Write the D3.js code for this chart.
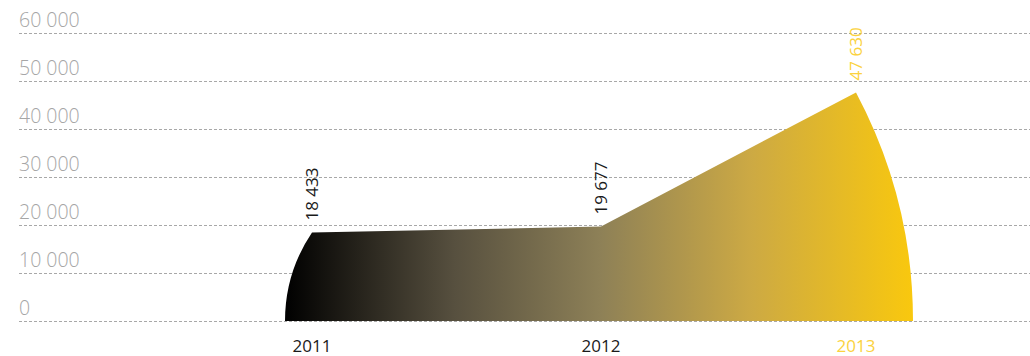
<!DOCTYPE html>
<html>
<head>
<meta charset="utf-8">
<script src="https://cdn.jsdelivr.net/npm/d3@7"></script>
<style>
  html, body { margin: 0; padding: 0; background: #fff; }
  svg { display: block; font-family: "Open Sans", Lato, sans-serif; }
</style>
</head>
<body>
<svg id="chart" width="1030" height="356"></svg>
<script>
// Yearly values
const years = ["2011", "2012", "2013"];
const values = [18433, 19677, 47630];
const valueLabels = ["18 433", "19 677", "47 630"];
const yTicks = [0, 10000, 20000, 30000, 40000, 50000, 60000];
const yTickLabels = ["0", "10 000", "20 000", "30 000", "40 000", "50 000", "60 000"];

const svg = d3.select("#chart");
const W = 1030;
const yellow = "#f9c80e";
const yellowText = "#fbd23e";

const y = d3.scaleLinear().domain([0, 60000]).range([321, 33]);
const x = d3.scaleOrdinal().domain(years).range([312, 601, 856]);

const base = y(0);
const leftBottom = x(years[0]) - 27;
const rightBottom = x(years[2]) + 57;

// gradient across the filled band
const defs = svg.append("defs");
const grad = defs.append("linearGradient")
  .attr("id", "band").attr("gradientUnits", "userSpaceOnUse")
  .attr("x1", leftBottom).attr("x2", rightBottom).attr("y1", 0).attr("y2", 0);
[[0, "#000000"], [0.27, "#57503f"], [0.5, "#8d8057"], [0.74, "#cca944"], [1, yellow]]
  .forEach(([o, c]) => grad.append("stop").attr("offset", o).attr("stop-color", c));

// grid lines
svg.append("g").selectAll("line").data(yTicks).join("line")
  .attr("x1", 19).attr("x2", W)
  .attr("y1", d => y(d) + 0.5).attr("y2", d => y(d) + 0.5)
  .attr("stroke", "#a8a8a8").attr("stroke-width", 1)
  .attr("stroke-dasharray", "3,2");

// y tick labels
svg.append("g").selectAll("text").data(yTicks).join("text")
  .attr("x", 19).attr("y", d => y(d) - 6)
  .attr("fill", "#a6a6a6").attr("font-size", 19.5).attr("font-weight", 300)
  .text((d, i) => yTickLabels[i]);

// radius of a circular arc centred on the baseline through two points
function arcRadius(x0, y0, x1, y1) {
  const cx = ((x1 * x1 - x0 * x0) + ((y1 - base) ** 2 - (y0 - base) ** 2)) / (2 * (x1 - x0));
  return Math.hypot(x1 - cx, y1 - base);
}

// filled band: curved left and right edges, straight top between the years
const pts = years.map((yr, i) => [x(yr), y(values[i])]);
const rL = arcRadius(leftBottom, base, pts[0][0], pts[0][1]);
const rR = arcRadius(pts[2][0], pts[2][1], rightBottom, base);
const d = [
  `M${leftBottom},${base}`,
  `A${rL},${rL} 0 0 1 ${pts[0][0]},${pts[0][1]}`,
  ...pts.slice(1).map(p => `L${p[0]},${p[1]}`),
  `A${rR},${rR} 0 0 1 ${rightBottom},${base}`,
  "Z"
].join("");

svg.append("path").attr("d", d).attr("fill", "url(#band)");

// value labels, rotated
svg.append("g").selectAll("text").data(years).join("text")
  .attr("transform", (d, i) => `translate(${x(d) + 6},${y(values[i]) - 12}) rotate(-90)`)
  .attr("fill", (d, i) => i === 2 ? yellowText : "#1a1a1a")
  .attr("font-size", 17).attr("font-weight", 400)
  .text((d, i) => valueLabels[i]);

// year labels
svg.append("g").selectAll("text").data(years).join("text")
  .attr("x", d => x(d)).attr("y", 352)
  .attr("text-anchor", "middle")
  .attr("fill", (d, i) => i === 2 ? yellowText : "#1a1a1a")
  .attr("font-size", 17).attr("font-weight", 400)
  .text(d => d);
</script>
</body>
</html>
